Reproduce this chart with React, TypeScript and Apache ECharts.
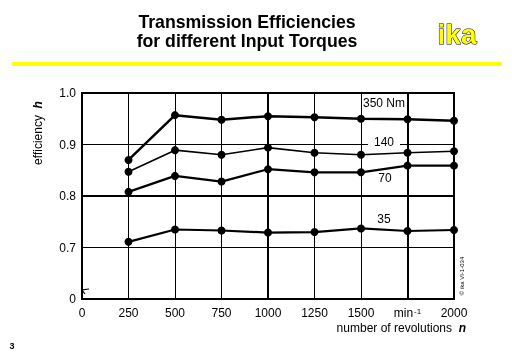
import React, { useEffect, useRef } from "react";
import * as echarts from "echarts";

const revolutions = [250, 500, 750, 1000, 1250, 1500, 1750, 2000];
const eff350 = [0.87, 0.957, 0.948, 0.955, 0.953, 0.95, 0.949, 0.946];
const eff140 = [0.847, 0.889, 0.88, 0.894, 0.884, 0.88, 0.884, 0.887];
const eff70 = [0.808, 0.839, 0.828, 0.852, 0.846, 0.846, 0.859, 0.859];
const eff35 = [0.711, 0.735, 0.733, 0.729, 0.73, 0.737, 0.732, 0.734];
const seriesNames = ["350 Nm", "140", "70", "35"];
const xTicks = [0, 250, 500, 750, 1000, 1250, 1500, 1750, 2000];
const yTicks = [0.6, 0.7, 0.8, 0.9, 1.0];

const FONT = "'Liberation Sans', Arial, sans-serif";

export default function App() {
  const ref = useRef<HTMLDivElement>(null);
  useEffect(() => {
    const chart = echarts.init(ref.current!, null, { renderer: "svg" });
    const labelIdx = 5;
    const mk = (
      name: string,
      vals: number[],
      width: number,
      label: any
    ) => ({
      name,
      type: "line",
      data: revolutions.map((r, i) =>
        i === labelIdx
          ? { value: [r, vals[i]], label: { show: true, formatter: name, ...label } }
          : { value: [r, vals[i]] }
      ),
      symbol: "circle",
      symbolSize: 8,
      itemStyle: { color: "#000" },
      lineStyle: { color: "#000", width },
      label: {
        show: false,
        color: "#000",
        fontFamily: FONT,
        fontSize: 12,
      },
      z: 5,
    });
    chart.setOption({
      animation: false,
      grid: {
        left: 82,
        right: 58,
        top: 93,
        bottom: 55,
        show: true,
        borderColor: "#000",
        borderWidth: 2,
      },
      title: {
        text: "Transmission Efficiencies\nfor different Input Torques",
        left: 242,
        top: 7,
        textAlign: "center",
        textStyle: {
          fontFamily: FONT,
          fontWeight: "bold",
          fontSize: 17.7,
          lineHeight: 19,
          color: "#000",
        },
      },
      xAxis: {
        type: "value",
        min: 0,
        max: 2000,
        interval: 250,
        axisLine: { show: true, lineStyle: { color: "#000", width: 2 } },
        axisTick: { show: false },
        axisLabel: {
          margin: 8,
          color: "#000",
          fontFamily: FONT,
          fontSize: 12,
          lineHeight: 12,
          customValues: xTicks,
          formatter: (v: number) =>
            v === 1750 ? "{a|min}{s|-1}" : String(v),
          rich: {
            a: { fontFamily: FONT, fontSize: 12, color: "#000", lineHeight: 12 },
            s: {
              fontFamily: FONT,
              fontSize: 8,
              color: "#000",
              lineHeight: 4,
              verticalAlign: "top",
              padding: [0, 0, 0, 1],
            },
          },
        },
        splitLine: { show: true, lineStyle: { color: "#000", width: 1 } },
      },
      yAxis: {
        type: "value",
        min: 0.6,
        max: 1.0,
        interval: 0.1,
        axisLine: { show: true, lineStyle: { color: "#000", width: 2 } },
        axisTick: { show: false },
        axisLabel: {
          margin: 6,
          color: "#000",
          fontFamily: FONT,
          fontSize: 12,
          customValues: yTicks,
          formatter: (v: number) =>
            Math.abs(v - 0.6) < 1e-6 ? "0" : v.toFixed(1),
        },
        splitLine: { show: true, lineStyle: { color: "#000", width: 1 } },
      },
      series: [
        {
          type: "line",
          data: [],
          silent: true,
          markLine: {
            silent: true,
            symbol: "none",
            label: { show: false },
            lineStyle: { color: "#000", width: 2, type: "solid" },
            data: [{ xAxis: 1000 }, { xAxis: 1750 }, { yAxis: 0.8 }],
          },
          z: 3,
        },
        mk(seriesNames[0], eff350, 2.5, { position: "top", offset: [23, -1] }),
        mk(seriesNames[1], eff140, 1.6, {
          position: "top",
          offset: [23, 3],
          backgroundColor: "#fff",
          padding: [1, 6, 1, 6],
        }),
        mk(seriesNames[2], eff70, 2.2, { position: "bottom", offset: [24, -9] }),
        mk(seriesNames[3], eff35, 2.2, { position: "top", offset: [23, 6] }),
      ],
      graphic: [
        {
          type: "rect",
          shape: { x: 12, y: 62, width: 490, height: 4 },
          style: { fill: "#ffff00" },
        },
        {
          type: "text",
          x: 457,
          y: 34,
          style: {
            text: "ika",
            fontFamily: FONT,
            fontWeight: "bold",
            fontSize: 28,
            fill: "#ffff00",
            stroke: "#000",
            lineWidth: 1,
            textAlign: "center",
            textVerticalAlign: "middle",
          },
        },
        {
          type: "text",
          x: 38,
          y: 133,
          rotation: Math.PI / 2,
          style: {
            text: "efficiency  {h|h}",
            fontFamily: FONT,
            fontSize: 12,
            fill: "#000",
            textAlign: "center",
            textVerticalAlign: "middle",
            rich: {
              h: {
                fontFamily: FONT,
                fontSize: 12,
                fontWeight: "bold",
                fontStyle: "italic",
                fill: "#000",
              },
            },
          },
        },
        {
          type: "text",
          x: 466,
          y: 328,
          style: {
            text: "number of revolutions  {n|n}",
            fontFamily: FONT,
            fontSize: 12,
            fill: "#000",
            textAlign: "right",
            textVerticalAlign: "middle",
            rich: {
              n: {
                fontFamily: FONT,
                fontSize: 12,
                fontWeight: "bold",
                fontStyle: "italic",
                fill: "#000",
              },
            },
          },
        },
        {
          type: "text",
          x: 12,
          y: 346,
          style: {
            text: "3",
            fontFamily: FONT,
            fontSize: 9,
            fontWeight: "bold",
            fill: "#000",
            textAlign: "center",
            textVerticalAlign: "middle",
          },
        },
        {
          type: "text",
          x: 462,
          y: 276,
          rotation: Math.PI / 2,
          style: {
            text: "© ika VI-1-034",
            fontFamily: FONT,
            fontSize: 6,
            fill: "#000",
            textAlign: "center",
            textVerticalAlign: "middle",
          },
        },
        {
          type: "polyline",
          shape: { points: [[89, 289], [82, 290], [85, 294]] },
          style: { stroke: "#000", lineWidth: 1.2, fill: "none" },
        },
      ],
    });
    return () => chart.dispose();
  }, []);
  return (
    <div
      ref={ref}
      style={{ position: "fixed", left: 0, top: 0, width: 512, height: 354 }}
    />
  );
}
